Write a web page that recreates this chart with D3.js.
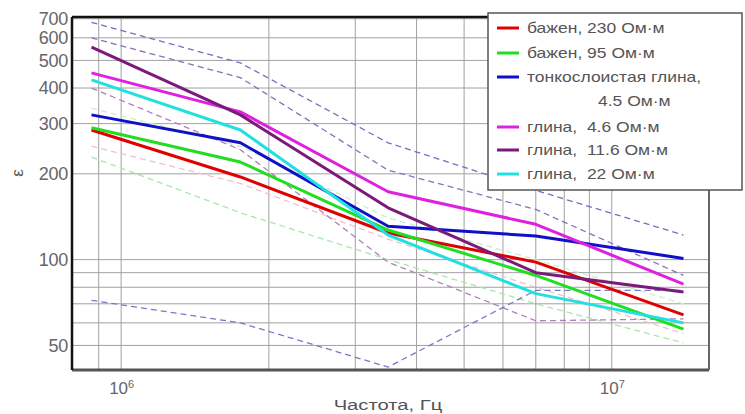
<!DOCTYPE html>
<html><head><meta charset="utf-8">
<script src="https://cdn.jsdelivr.net/npm/d3@7"></script>
<style>body{margin:0;background:#fff} svg{display:block} text{font-family:"Liberation Sans",Arial,sans-serif; white-space:pre}</style>
</head><body><svg id="c" width="745" height="414"></svg>
<script>
// ---- data ----
const freqs = [0.87e6, 1.75e6, 3.5e6, 7e6, 14e6];
const seriesNames = ["бажен, 230 Ом·м", "бажен, 95 Ом·м", "тонкослоистая глина,|4.5 Ом·м", "глина,  4.6 Ом·м", "глина,  11.6 Ом·м", "глина,  22 Ом·м"];
const bazhen230 = [285, 195, 124, 98, 64];
const bazhen95  = [290, 220, 127, 88, 57];
const thinClay45 = [322, 257, 131, 121, 101];
const clay46  = [452, 330, 173, 133, 82];
const clay116 = [557, 322, 152, 90, 77];
const clay22  = [427, 285, 122, 76, 60];
// dashed bounds
const dashA = [680, 490, 257, 175, 122];
const dashB = [600, 435, 206, 150, 88];
const dashC = [400, 243, 98, 61, 62];
const dashD = [72, 60, 42, 78, 78];
const dashE = [229, 146, 100, 70, 51];
const dashF = [340, 250, 140, 100, 70];
const dashG = [250, 185, 118, 80, 55];
const yTicks = [50, 100, 200, 300, 400, 500, 600, 700];
const yGrid = [50, 60, 70, 80, 90, 100, 200, 300, 400, 500, 600, 700];
const xTicks = [1e6, 1e7];
const xGrid = [9e5, 1e6, 2e6, 3e6, 4e6, 5e6, 6e6, 7e6, 8e6, 9e6, 1e7];

const series = [
  {name: seriesNames[0], values: bazhen230, color: "#e00000"},
  {name: seriesNames[1], values: bazhen95, color: "#22dd22"},
  {name: seriesNames[2], values: thinClay45, color: "#1010c8"},
  {name: seriesNames[3], values: clay46, color: "#e020e0"},
  {name: seriesNames[4], values: clay116, color: "#7a1a7a"},
  {name: seriesNames[5], values: clay22, color: "#22e0e0"}
];
const dashed = [
  {values: dashE, color: "#a8e8a8"},
  {values: dashF, color: "#c8f0c8"},
  {values: dashG, color: "#f0c0d0"},
  {values: dashA, color: "#7070c0"},
  {values: dashB, color: "#8a70b8"},
  {values: dashC, color: "#b080b8"},
  {values: dashD, color: "#7878c8"}
];

// ---- chart ----
const svg = d3.select("#c");
const L = 72, T = 17, R = 709, B = 370;
const x = d3.scaleLog().domain([7.94e5, 1.578e7]).range([L, R]);
const y = d3.scaleLog().domain([41, 710]).range([B, T]);

// grid
svg.append("g").selectAll("line").data(yGrid).join("line")
  .attr("x1", L).attr("x2", R).attr("y1", d => y(d)).attr("y2", d => y(d))
  .attr("stroke", "#a0a0a0").attr("stroke-width", 1);
svg.append("g").selectAll("line").data(xGrid).join("line")
  .attr("x1", d => x(d)).attr("x2", d => x(d)).attr("y1", T).attr("y2", B)
  .attr("stroke", "#a0a0a0").attr("stroke-width", 1);

const line = d3.line().x((d, i) => x(freqs[i])).y(d => y(d));

// dashed lines
svg.append("g").selectAll("path").data(dashed).join("path")
  .attr("d", d => line(d.values)).attr("fill", "none")
  .attr("stroke", d => d.color).attr("stroke-width", 1.3)
  .attr("stroke-dasharray", "6,4");

// series lines
svg.append("g").selectAll("path").data(series).join("path")
  .attr("d", d => line(d.values)).attr("fill", "none")
  .attr("stroke", d => d.color).attr("stroke-width", 3)
  .attr("stroke-linejoin", "round");

// frame
svg.append("line").attr("x1", L).attr("x2", R).attr("y1", B).attr("y2", B).attr("stroke", "#555").attr("stroke-width", 3);
svg.append("line").attr("x1", R).attr("x2", R).attr("y1", T).attr("y2", B).attr("stroke", "#666").attr("stroke-width", 2);
svg.append("line").attr("x1", L).attr("x2", R).attr("y1", T).attr("y2", T).attr("stroke", "#111").attr("stroke-width", 2.5);
svg.append("line").attr("x1", L).attr("x2", L).attr("y1", T).attr("y2", B).attr("stroke", "#111").attr("stroke-width", 2.5);

// y axis
const ya = svg.append("g").attr("transform", `translate(${L},0)`)
  .call(d3.axisLeft(y).tickValues(yTicks).tickSize(0).tickPadding(4).tickFormat(d3.format("d")));
ya.select(".domain").remove();
ya.selectAll("text").attr("font-size", 18).attr("fill", "#666").attr("letter-spacing", "-0.3px")
  .attr("font-family", "'Liberation Sans', Arial, sans-serif");

// x axis
const xa = svg.append("g").attr("transform", `translate(0,${B})`)
  .call(d3.axisBottom(x).tickValues(xTicks).tickSize(0).tickPadding(9).tickFormat(""));
xa.select(".domain").remove();
xa.selectAll(".tick text").each(function(d) {
  const t = d3.select(this).text(null).attr("font-size", 17).attr("fill", "#666")
    .attr("font-family", "'Liberation Sans', Arial, sans-serif").attr("dy", "0.9em");
  t.append("tspan").text("10");
  t.append("tspan").text(Math.round(Math.log10(d))).attr("font-size", 11).attr("dy", "-0.6em");
});

// axis titles
svg.append("text").attr("transform", "translate(388,410) scale(1.35,1)")
  .attr("text-anchor", "middle").attr("font-size", 15).attr("fill", "#555").text("Частота, Гц");
svg.append("text").attr("transform", "translate(23,173) rotate(-90)")
  .attr("text-anchor", "middle").attr("font-size", 17).attr("fill", "#555").text("ε");

// legend
const lg = svg.append("g");
lg.append("rect").attr("x", 488).attr("y", 13).attr("width", 254).attr("height", 177)
  .attr("fill", "#fff").attr("stroke", "#555").attr("stroke-width", 1.5);
const rowY = [28, 53, 77, 127, 150, 174];
series.forEach((s, i) => {
  const yy = rowY[i];
  lg.append("line").attr("x1", 497).attr("x2", 519).attr("y1", yy).attr("y2", yy)
    .attr("stroke", s.color).attr("stroke-width", 3);
  const parts = s.name.split("|");
  lg.append("text").attr("transform", `translate(527,${yy + 5}) scale(1.25,1)`)
    .attr("font-size", 14).attr("fill", "#555").text(parts[0]);
  if (parts[1]) {
    lg.append("text").attr("transform", `translate(598,${yy + 29}) scale(1.25,1)`)
      .attr("font-size", 14).attr("fill", "#555").text(parts[1]);
  }
});
</script></body></html>
